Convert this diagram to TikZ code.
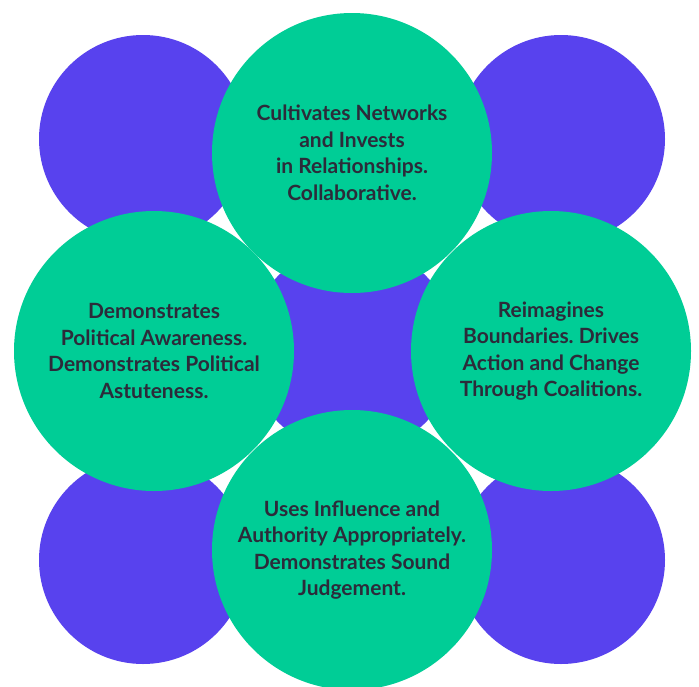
\documentclass[tikz,border=0pt]{standalone}
\usepackage{fontspec}
\setmainfont{Lato}
\usepackage{tikz}
\usetikzlibrary{positioning}
\definecolor{violet}{HTML}{5842EE}
\definecolor{mint}{HTML}{00CD96}
\definecolor{ink}{HTML}{2C2B3A}
\frenchspacing
\tikzset{
  dot/.style={circle,fill=violet,minimum size=208pt,inner sep=0pt},
  bubble/.style={circle,fill=mint,minimum size=280pt,inner sep=0pt,align=center,text=ink,
    font=\fontsize{21}{26.5}\selectfont\bfseries},
}
\begin{document}
\begin{tikzpicture}[x=1pt,y=-1pt]
\useasboundingbox[fill=white] (0,0) rectangle (699,686);
% purple discs behind
\foreach \n/\x/\y in {tl/143/139,tr/561/139,bl/143/560,br/561/560,mid/352/349}
  \node[dot] (p\n) at (\x,\y) {};
% green discs with the texts
\node[bubble] (top) at (352,153) {Cultivates Networks\\and Invests\\in Relationships.\\Collaborative.};
\node[bubble] (left) at (154,351) {Demonstrates\\Political Awareness.\\Demonstrates Political\\Astuteness.};
\node[bubble] (right) at (551,351) {Reimagines\\Boundaries. Drives\\Action and Change\\Through Coalitions.};
\node[bubble] (bottom) at (352,550) {Uses Influence and\\Authority Appropriately.\\Demonstrates Sound\\Judgement.};
\end{tikzpicture}
\end{document}
